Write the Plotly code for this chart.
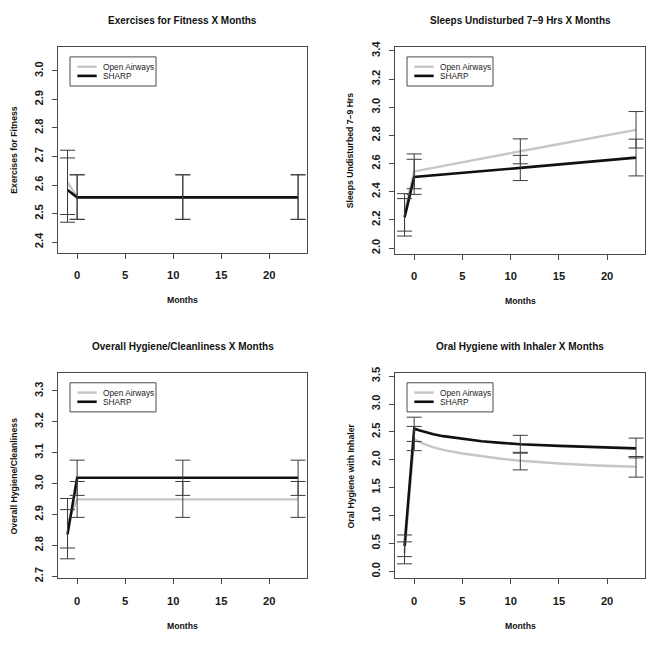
import plotly.graph_objects as go

W, H = 654, 645

# ---------------- data ----------------
months = [-1, 0, 11, 23]
series_names = ["Open Airways", "SHARP"]
x_tick_vals = [0, 5, 10, 15, 20]

# Panel 1: Exercises for Fitness
p1_title = "Exercises for Fitness X Months"
p1_ylabel = "Exercises for Fitness"
p1_open_mean = [2.610, 2.557, 2.557, 2.557]
p1_open_lo = [2.497, 2.480, 2.480, 2.480]
p1_open_hi = [2.722, 2.636, 2.636, 2.636]
p1_sharp_mean = [2.583, 2.557, 2.557, 2.557]
p1_sharp_lo = [2.470, 2.480, 2.480, 2.480]
p1_sharp_hi = [2.695, 2.636, 2.636, 2.636]
p1_yticks = [2.4, 2.5, 2.6, 2.7, 2.8, 2.9, 3.0]
p1_yrange = [2.363, 3.083]

# Panel 2: Sleeps Undisturbed 7-9 Hrs
p2_title = "Sleeps Undisturbed 7\u20139 Hrs X Months"
p2_ylabel = "Sleeps Undisturbed 7\u20139 Hrs"
p2_open_mean = [2.254, 2.545, 2.688, 2.840]
p2_open_lo = [2.121, 2.422, 2.599, 2.711]
p2_open_hi = [2.387, 2.669, 2.776, 2.970]
p2_sharp_mean = [2.219, 2.506, 2.570, 2.643]
p2_sharp_lo = [2.086, 2.382, 2.480, 2.513]
p2_sharp_hi = [2.352, 2.631, 2.659, 2.774]
p2_yticks = [2.0, 2.2, 2.4, 2.6, 2.8, 3.0, 3.2, 3.4]
p2_yrange = [1.960, 3.428]

# Panel 3: Overall Hygiene/Cleanliness
p3_title = "Overall Hygiene/Cleanliness X Months"
p3_ylabel = "Overall Hygiene/Cleanliness"
p3_open_mean = [2.872, 2.949, 2.949, 2.949]
p3_open_lo = [2.792, 2.891, 2.891, 2.891]
p3_open_hi = [2.952, 3.007, 3.007, 3.007]
p3_sharp_mean = [2.836, 3.019, 3.019, 3.019]
p3_sharp_lo = [2.757, 2.962, 2.962, 2.962]
p3_sharp_hi = [2.916, 3.076, 3.076, 3.076]
p3_yticks = [2.7, 2.8, 2.9, 3.0, 3.1, 3.2, 3.3]
p3_yrange = [2.694, 3.358]

# Panel 4: Oral Hygiene with Inhaler (fitted curves)
p4_title = "Oral Hygiene with Inhaler X Months"
p4_ylabel = "Oral Hygiene with Inhaler"
p4_open_mean = [0.332, 2.380, 1.978, 1.875]
p4_open_lo = [0.135, 2.165, 1.820, 1.690]
p4_open_hi = [0.529, 2.600, 2.135, 2.060]
p4_sharp_mean = [0.459, 2.548, 2.280, 2.212]
p4_sharp_lo = [0.265, 2.330, 2.120, 2.035]
p4_sharp_hi = [0.653, 2.765, 2.440, 2.390]
p4_curve_months = [-1, 0, 0.5, 1, 2, 3, 5, 7, 9, 11, 15, 19, 23]
p4_open_curve = [0.332, 2.370, 2.325, 2.285, 2.225, 2.180, 2.115, 2.065, 2.020, 1.985, 1.935, 1.900, 1.875]
p4_sharp_curve = [0.459, 2.560, 2.530, 2.505, 2.460, 2.425, 2.375, 2.335, 2.305, 2.280, 2.250, 2.225, 2.205]
p4_yticks = [0.0, 0.5, 1.0, 1.5, 2.0, 2.5, 3.0, 3.5]
p4_yrange = [-0.124, 3.559]

# ---------------- style ----------------
FONT = "Liberation Sans, Arial, Helvetica, sans-serif"
GRAY = "#c6c6c6"
BLACK = "#111111"
ERR = "#3c3c3c"
FRAME = "#4a4a4a"

def px(x):
    return x / W

def py(y):
    return 1 - y / H

# plot-box pixel positions: (left, right, top, bottom)
boxes = [
    (58.3, 307.3, 41.7, 250.7),
    (395.3, 645.3, 41.7, 251.7),
    (58.3, 307.3, 372.7, 581.3),
    (395.3, 645.3, 372.7, 581.3),
]

panels = [
    dict(title=p1_title, ylabel=p1_ylabel, om=p1_open_mean, olo=p1_open_lo, ohi=p1_open_hi,
         sm=p1_sharp_mean, slo=p1_sharp_lo, shi=p1_sharp_hi, yticks=p1_yticks, yrange=p1_yrange,
         cx=months, oc=p1_open_mean, sc=p1_sharp_mean),
    dict(title=p2_title, ylabel=p2_ylabel, om=p2_open_mean, olo=p2_open_lo, ohi=p2_open_hi,
         sm=p2_sharp_mean, slo=p2_sharp_lo, shi=p2_sharp_hi, yticks=p2_yticks, yrange=p2_yrange,
         cx=months, oc=p2_open_mean, sc=p2_sharp_mean),
    dict(title=p3_title, ylabel=p3_ylabel, om=p3_open_mean, olo=p3_open_lo, ohi=p3_open_hi,
         sm=p3_sharp_mean, slo=p3_sharp_lo, shi=p3_sharp_hi, yticks=p3_yticks, yrange=p3_yrange,
         cx=months, oc=p3_open_mean, sc=p3_sharp_mean),
    dict(title=p4_title, ylabel=p4_ylabel, om=p4_open_mean, olo=p4_open_lo, ohi=p4_open_hi,
         sm=p4_sharp_mean, slo=p4_sharp_lo, shi=p4_sharp_hi, yticks=p4_yticks, yrange=p4_yrange,
         cx=p4_curve_months, oc=p4_open_curve, sc=p4_sharp_curve),
]

fig = go.Figure()
annotations = []
shapes = []

for i, (p, box) in enumerate(zip(panels, boxes)):
    n = "" if i == 0 else str(i + 1)
    xa, ya = "x" + n, "y" + n
    L, R, T, B = box

    # lines
    fig.add_trace(go.Scatter(x=p["cx"], y=p["oc"], mode="lines", xaxis=xa, yaxis=ya,
                             line=dict(color=GRAY, width=2.4), name=series_names[0], showlegend=False))
    fig.add_trace(go.Scatter(x=p["cx"], y=p["sc"], mode="lines", xaxis=xa, yaxis=ya,
                             line=dict(color=BLACK, width=2.6), name=series_names[1], showlegend=False))
    # error bars
    for mean, lo, hi, nm in [(p["om"], p["olo"], p["ohi"], series_names[0]),
                             (p["sm"], p["slo"], p["shi"], series_names[1])]:
        fig.add_trace(go.Scatter(
            x=months, y=mean, mode="markers", xaxis=xa, yaxis=ya, name=nm, showlegend=False,
            marker=dict(size=1, opacity=0),
            error_y=dict(type="data", symmetric=False,
                         array=[h - m for h, m in zip(hi, mean)],
                         arrayminus=[m - l for m, l in zip(mean, lo)],
                         color=ERR, thickness=1, width=7.5),
        ))

    axis_common = dict(showgrid=False, zeroline=False, showline=True, mirror=True,
                       linecolor=FRAME, linewidth=1, ticks="outside", ticklen=5,
                       tickcolor=FRAME, tickwidth=1,
                       tickfont=dict(family=FONT, size=11.2, color="#1a1a1a", weight="bold"))
    fig.update_layout(**{
        "xaxis" + n: dict(axis_common, domain=[px(L), px(R)], range=[-1.96, 23.96],
                          tickvals=x_tick_vals, anchor=ya, ticklabelstandoff=7),
        "yaxis" + n: dict(axis_common, domain=[py(B), py(T)], range=p["yrange"],
                          tickvals=p["yticks"], tickformat=".1f", tickangle=-90,
                          anchor=xa, ticklabelstandoff=5),
    })

    cx = (L + R) / 2
    # title
    annotations.append(dict(text=p["title"], x=px(cx), y=py(T - 26.5), xref="paper", yref="paper",
                            xanchor="center", yanchor="middle", showarrow=False,
                            font=dict(family=FONT, size=10, color="#111", weight="bold")))
    # x label
    annotations.append(dict(text="Months", x=px(cx), y=py(B + 48), xref="paper", yref="paper",
                            xanchor="center", yanchor="middle", showarrow=False,
                            font=dict(family=FONT, size=8.7, color="#111", weight="bold")))
    # y label
    annotations.append(dict(text=p["ylabel"], x=px(L - 44.5), y=py((T + B) / 2), xref="paper",
                            yref="paper", xanchor="center", yanchor="middle", showarrow=False,
                            textangle=-90,
                            font=dict(family=FONT, size=8.7, color="#111", weight="bold")))
    # legend (box, line samples, labels)
    lx0, ly0 = L + 11.7, T + 10
    shapes.append(dict(type="rect", xref="paper", yref="paper",
                       x0=px(lx0), x1=px(lx0 + 86), y0=py(ly0), y1=py(ly0 + 29.6),
                       line=dict(color=FRAME, width=1), fillcolor="white", layer="above"))
    for k, (col, nm) in enumerate([(GRAY, series_names[0]), (BLACK, series_names[1])]):
        yy = ly0 + 10 + k * 9.3
        shapes.append(dict(type="line", xref="paper", yref="paper",
                           x0=px(lx0 + 7.3), x1=px(lx0 + 26.7), y0=py(yy), y1=py(yy),
                           line=dict(color=col, width=2.4 if k == 0 else 2.6), layer="above"))
        annotations.append(dict(text=nm, x=px(lx0 + 30.5), y=py(yy), xref="paper", yref="paper",
                                xanchor="left", yanchor="middle", showarrow=False,
                                font=dict(family=FONT, size=8.3, color="#222")))

fig.update_layout(width=W, height=H, autosize=False, margin=dict(l=0, r=0, t=0, b=0),
                  paper_bgcolor="white", plot_bgcolor="white", showlegend=False,
                  annotations=annotations, shapes=shapes)

fig.write_html("out.html", config={"displayModeBar": False},
               post_script="document.body.style.margin='0';document.body.style.padding='0';")
